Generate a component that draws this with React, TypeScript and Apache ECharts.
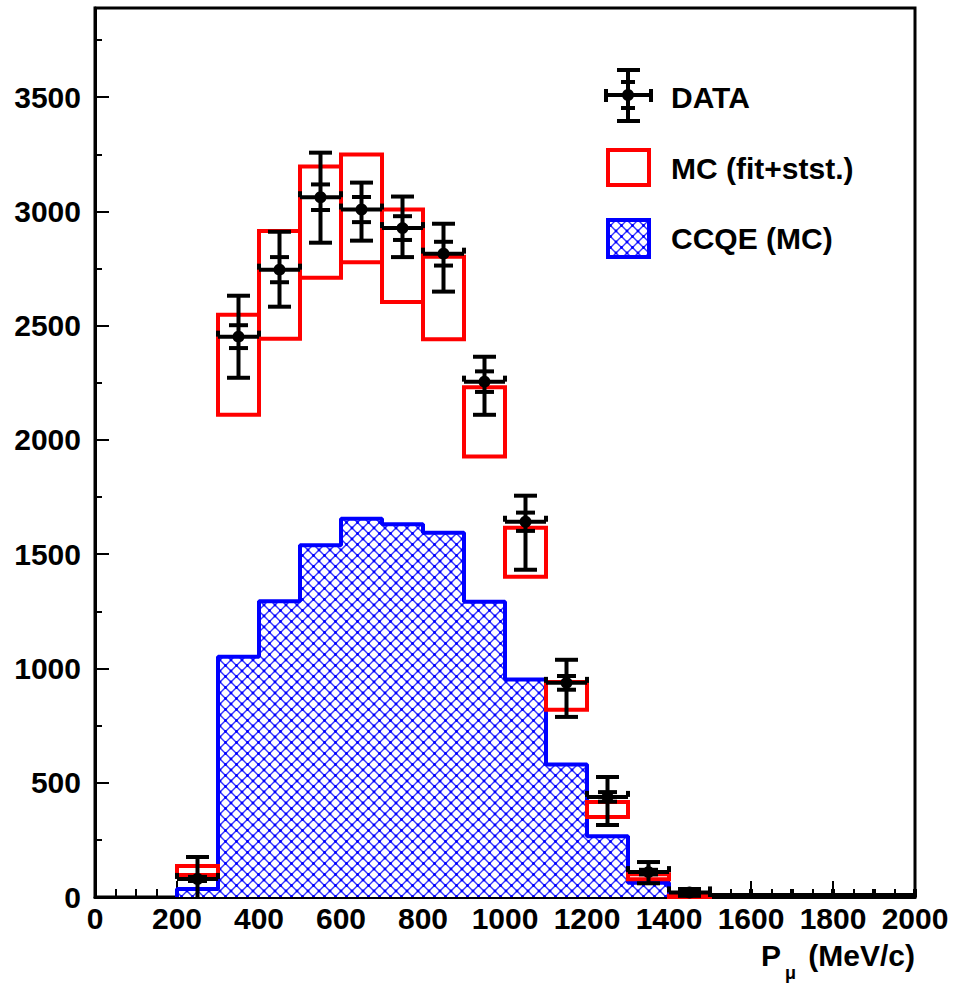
import { useEffect, useRef } from 'react';
import * as echarts from 'echarts';

// Muon momentum distribution: data with stat / total errors, MC band, CCQE component
const BIN_WIDTH = 100;

// MC (fit + stat) band per 100 MeV/c bin: lower and upper edge
const mcBinLow = [200, 300, 400, 500, 600, 700, 800, 900, 1000, 1100, 1200, 1300, 1400];
const mcBandLow = [96, 2110, 2443, 2710, 2778, 2603, 2441, 1928, 1401, 819, 350, 78, 0];
const mcBandHigh = [136, 2548, 2914, 3196, 3249, 3008, 2802, 2231, 1616, 941, 416, 100, 5];

// CCQE (MC) histogram content, same binning as the MC band
const ccqeValues = [35, 1051, 1294, 1539, 1655, 1631, 1594, 1292, 952, 580, 266, 62, 0];

// Data points
const dataBinLow = [200, 300, 400, 500, 600, 700, 800, 900, 1000, 1100, 1200, 1300, 1400, 1500, 1600, 1700, 1800, 1900];
const dataValues = [79, 2452, 2745, 3062, 3008, 2927, 2815, 2255, 1642, 937, 438, 109, 20, 0, 0, 0, 0, 0];
const dataStatErr = [9, 50, 55, 56, 55, 52, 52, 45, 40, 30, 21, 10, 5, 0, 0, 0, 0, 0];
const dataTotErrUp = [96, 179, 166, 195, 118, 138, 131, 109, 114, 101, 87, 44, 15, 0, 0, 0, 0, 0];
const dataTotErrDown = [96, 180, 162, 199, 136, 127, 166, 145, 210, 149, 123, 49, 15, 0, 0, 0, 0, 0];

// Axis ticks
const X_MIN = 0;
const X_MAX = 2000;
const X_STEP = 200;
const Y_MIN = 0;
const Y_MAX = 3890;
const Y_STEP = 500;
const Y_MINOR_STEP = 250;

const FONT = '"Liberation Sans", Arial, Helvetica, sans-serif';
const BLUE = '#0000ff';
const RED = '#ff0000';
const HATCH_SIZE = 11;

function makeHatchCanvas(): HTMLCanvasElement {
  const s = HATCH_SIZE;
  const c = document.createElement('canvas');
  c.width = s;
  c.height = s;
  const ctx = c.getContext('2d')!;
  ctx.fillStyle = '#ffffff';
  ctx.fillRect(0, 0, s, s);
  ctx.strokeStyle = 'rgba(30,30,255,0.9)';
  ctx.lineWidth = 1.4;
  ctx.beginPath();
  ctx.moveTo(0, 0);
  ctx.lineTo(s, s);
  ctx.moveTo(s, 0);
  ctx.lineTo(0, s);
  ctx.stroke();
  ctx.fillStyle = BLUE;
  const pts = [
    [s / 2, s / 2],
    [0, 0],
    [s, 0],
    [0, s],
    [s, s],
  ];
  for (const [x, y] of pts) {
    ctx.beginPath();
    ctx.arc(x, y, 1.4, 0, Math.PI * 2);
    ctx.fill();
  }
  return c;
}

function buildOption() {
  const hatchCanvas = makeHatchCanvas();
  const hatch: any = {
    image: hatchCanvas.toDataURL(),
    repeat: 'repeat',
    imageWidth: HATCH_SIZE,
    imageHeight: HATCH_SIZE,
  };

  const ccqeData = mcBinLow.map((lo, i) => [lo, ccqeValues[i]]);
  const ccqeOutline: number[][] = [[mcBinLow[0], 0]];
  mcBinLow.forEach((lo, i) => {
    ccqeOutline.push([lo, ccqeValues[i]]);
    ccqeOutline.push([lo + BIN_WIDTH, ccqeValues[i]]);
  });
  ccqeOutline.push([mcBinLow[mcBinLow.length - 1] + BIN_WIDTH, 0]);

  const mcData = mcBinLow.map((lo, i) => [lo, mcBandLow[i], mcBandHigh[i]]);
  const pointData = dataBinLow.map((lo, i) => [
    lo,
    dataValues[i],
    dataStatErr[i],
    dataTotErrUp[i],
    dataTotErrDown[i],
  ]);

  const hatchItem = (_p: any, api: any) => {
    const lo = api.value(0);
    const v = api.value(1);
    const a = api.coord([lo, v]);
    const b = api.coord([lo + BIN_WIDTH, 0]);
    return {
      type: 'rect',
      shape: { x: a[0], y: a[1], width: b[0] - a[0], height: b[1] - a[1] },
      style: { fill: hatch, stroke: null },
    };
  };

  const mcItem = (_p: any, api: any) => {
    const lo = api.value(0);
    const a = api.coord([lo, api.value(2)]);
    const b = api.coord([lo + BIN_WIDTH, api.value(1)]);
    return {
      type: 'rect',
      shape: { x: a[0], y: a[1], width: b[0] - a[0], height: Math.max(b[1] - a[1], 0.5) },
      style: { fill: null, stroke: RED, lineWidth: 4 },
    };
  };

  const seg = (x1: number, y1: number, x2: number, y2: number) => ({
    type: 'line',
    shape: { x1, y1, x2, y2 },
    style: { stroke: '#000', lineWidth: 4 },
  });

  const dataItem = (_p: any, api: any) => {
    const lo = api.value(0);
    const v = api.value(1);
    const st = api.value(2);
    const up = api.value(3);
    const dn = api.value(4);
    const c = lo + BIN_WIDTH / 2;
    const [xl, y0] = api.coord([lo, v]);
    const [xr] = api.coord([lo + BIN_WIDTH, v]);
    const [xc] = api.coord([c, v]);
    // empty bins sit on the axis; keep their bar visible just above it
    const y = v > 0 ? y0 : y0 - 2;
    const children: any[] = [
      seg(xl, y, xr, y),
      seg(xl, y - 6, xl, Math.min(y + 6, y0)),
      seg(xr, y - 6, xr, Math.min(y + 6, y0)),
    ];
    if (up + dn > 0) {
      const yTop = api.coord([c, v + up])[1];
      const yBot = api.coord([c, Math.max(0, v - dn)])[1];
      children.push(seg(xc, yTop, xc, yBot));
      children.push(seg(xc - 11.5, yTop, xc + 11.5, yTop));
      if (v - dn > 0) children.push(seg(xc - 11.5, yBot, xc + 11.5, yBot));
      if (st > 0) {
        const ys1 = api.coord([c, v + st])[1];
        const ys2 = api.coord([c, Math.max(0, v - st)])[1];
        children.push(seg(xc - 9.5, ys1, xc + 9.5, ys1));
        if (v - st > 0) children.push(seg(xc - 9.5, ys2, xc + 9.5, ys2));
      }
    }
    if (v > 0) {
      children.push({ type: 'circle', shape: { cx: xc, cy: y, r: 6 }, style: { fill: '#000' } });
    }
    return { type: 'group', children };
  };

  const labelStyle = {
    fontFamily: FONT,
    fontWeight: 'bold',
    fontSize: 30,
    color: '#000',
    formatter: (v: number) => String(v),
  };
  const textStyle = (text: string, x: number, y: number, align = 'left', size = 30) => ({
    type: 'text',
    x,
    y,
    z: 100,
    style: {
      text,
      fontFamily: FONT,
      fontWeight: 'bold',
      fontSize: size,
      fill: '#000',
      align,
      verticalAlign: 'middle',
    },
  });

  const lg = (x1: number, y1: number, x2: number, y2: number) => ({
    type: 'line',
    z: 100,
    shape: { x1, y1, x2, y2 },
    style: { stroke: '#000', lineWidth: 4 },
  });

  return {
    animation: false,
    backgroundColor: '#ffffff',
    grid: {
      left: 95,
      right: 38,
      top: 8,
      bottom: 87,
      show: true,
      borderColor: '#000',
      borderWidth: 3,
      backgroundColor: 'transparent',
      containLabel: false,
      outerBoundsMode: 'none',
    },
    xAxis: {
      type: 'value',
      min: X_MIN,
      max: X_MAX,
      interval: X_STEP,
      axisLine: { show: true, onZero: false, lineStyle: { color: '#000', width: 3 } },
      axisTick: { show: true, inside: true, length: 16, lineStyle: { color: '#000', width: 2 } },
      minorTick: { show: true, splitNumber: 4, length: 8, lineStyle: { color: '#000', width: 2 } },
      splitLine: { show: false },
      minorSplitLine: { show: false },
      axisLabel: { ...labelStyle, margin: 6, showMinLabel: true, showMaxLabel: true, hideOverlap: false },
    },
    yAxis: [
      {
        type: 'value',
        min: Y_MIN,
        max: Y_MAX,
        interval: Y_STEP,
        axisLine: { show: true, onZero: false, lineStyle: { color: '#000', width: 3 } },
        axisTick: { show: true, inside: true, length: 14, lineStyle: { color: '#000', width: 2 } },
        splitLine: { show: false },
        axisLabel: { ...labelStyle, margin: 14, showMaxLabel: false, hideOverlap: false },
      },
      {
        type: 'value',
        min: Y_MIN,
        max: Y_MAX,
        interval: Y_MINOR_STEP,
        position: 'left',
        axisLine: { show: false },
        axisTick: { show: true, inside: true, length: 7, lineStyle: { color: '#000', width: 2 } },
        splitLine: { show: false },
        axisLabel: { show: false },
      },
    ],
    series: [
      {
        type: 'custom',
        name: 'CCQE (MC)',
        renderItem: hatchItem,
        data: ccqeData,
        z: 2,
        silent: true,
        clip: true,
      },
      {
        type: 'line',
        name: 'CCQE outline',
        data: ccqeOutline,
        symbol: 'none',
        lineStyle: { color: BLUE, width: 4 },
        z: 3,
        silent: true,
      },
      {
        type: 'custom',
        name: 'MC (fit+stst.)',
        renderItem: mcItem,
        data: mcData,
        z: 4,
        silent: true,
      },
      {
        type: 'custom',
        name: 'DATA',
        renderItem: dataItem,
        data: pointData,
        z: 5,
        silent: true,
      },
    ],
    graphic: [
      // legend: DATA
      lg(606, 95, 651, 95),
      lg(606, 89, 606, 102),
      lg(651, 89, 651, 102),
      lg(628, 70, 628, 121),
      lg(617, 70, 640, 70),
      lg(617, 121, 640, 121),
      lg(621, 82, 635, 82),
      lg(621, 108, 635, 108),
      { type: 'circle', z: 100, shape: { cx: 628, cy: 95, r: 6 }, style: { fill: '#000' } },
      textStyle('DATA', 671, 97),
      // legend: MC band
      {
        type: 'rect',
        z: 100,
        shape: { x: 608, y: 150, width: 41, height: 35 },
        style: { fill: null, stroke: RED, lineWidth: 4 },
      },
      textStyle('MC (fit+stst.)', 671, 168),
      // legend: CCQE
      {
        type: 'rect',
        z: 100,
        shape: { x: 608, y: 220, width: 41, height: 37 },
        style: { fill: hatch, stroke: BLUE, lineWidth: 4 },
      },
      textStyle('CCQE (MC)', 671, 238),
      // axis title
      textStyle('(MeV/c)', 915, 955, 'right'),
      textStyle('μ', 796, 973, 'right', 18),
      textStyle('P', 781, 955, 'right'),
    ],
  };
}

export default function App() {
  const ref = useRef<HTMLDivElement>(null);
  useEffect(() => {
    const chart = echarts.init(ref.current!, null, { renderer: 'svg' });
    chart.setOption(buildOption() as any);
    return () => chart.dispose();
  }, []);
  return (
    <div
      ref={ref}
      style={{ position: 'absolute', left: 0, top: 0, width: 953, height: 984, background: '#fff' }}
    />
  );
}
